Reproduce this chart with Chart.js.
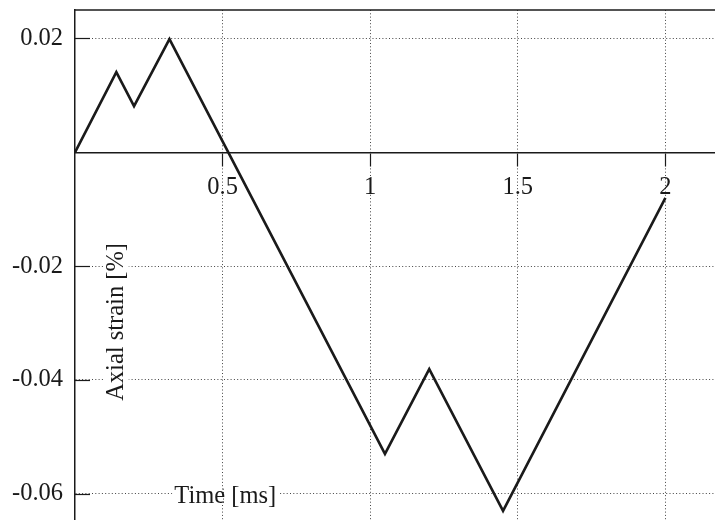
<!DOCTYPE html>
<html>
<head>
<meta charset="utf-8">
<script src="https://cdn.jsdelivr.net/npm/chart.js@4/dist/chart.umd.min.js"></script>
<style>
  html, body { margin: 0; padding: 0; background: #fff; }
  #chart { display: block; }
</style>
</head>
<body>
<canvas id="chart" width="715" height="520"></canvas>
<script>
// ── Data ──
const timeMs = [0, 0.14, 0.20, 0.32, 1.05, 1.20, 1.45, 2.0];
const strain = [0, 0.0141, 0.0081, 0.0199, -0.0530, -0.0381, -0.0630, -0.0080];

const xTicks = [0.5, 1, 1.5, 2];
const xTickLabels = ['0.5', '1', '1.5', '2'];
const yTicks = [-0.06, -0.04, -0.02, 0.02];
const yTickLabels = ['-0.06', '-0.04', '-0.02', '0.02'];

const FONT = '"Liberation Serif", "DejaVu Serif", serif';
const FSIZE = 24.5;
const INK = '#1a1a1a';
const DOTS = [1, 2.3];

// ── Extra drawing: top frame, inward y ticks, floating axis titles ──
const decor = {
  id: 'decor',
  afterDraw(chart) {
    const { ctx, chartArea: a, scales: { x, y } } = chart;
    ctx.save();

    // top frame line
    ctx.strokeStyle = INK;
    ctx.lineWidth = 1.5;
    ctx.beginPath();
    ctx.moveTo(a.left, a.top);
    ctx.lineTo(a.right, a.top);
    ctx.stroke();

    // y tick marks point into the plot
    ctx.lineWidth = 1.2;
    yTicks.forEach(v => {
      const py = Math.round(y.getPixelForValue(v)) + 0.5;
      ctx.beginPath();
      ctx.moveTo(a.left, py);
      ctx.lineTo(a.left + 15, py);
      ctx.stroke();
    });

    ctx.font = FSIZE + 'px ' + FONT;
    ctx.fillStyle = INK;

    // "Axial strain [%]" rotated, sitting inside the plot
    const ax = x.getPixelForValue(0.141), ay = y.getPixelForValue(-0.0298);
    ctx.save();
    ctx.translate(ax, ay);
    ctx.rotate(-Math.PI / 2);
    const w1 = ctx.measureText('Axial strain [%]').width;
    ctx.fillStyle = '#fff';
    ctx.fillRect(-w1 / 2 - 2, -12, w1 + 4, 24);
    ctx.fillStyle = INK;
    ctx.textAlign = 'center';
    ctx.textBaseline = 'middle';
    ctx.fillText('Axial strain [%]', 0, 0);
    ctx.restore();

    // "Time [ms]" near the bottom
    const tx = x.getPixelForValue(0.509), ty = y.getPixelForValue(-0.0605);
    const w2 = ctx.measureText('Time [ms]').width;
    ctx.fillStyle = '#fff';
    ctx.fillRect(tx - w2 / 2 - 2, ty - 6, w2 + 4, 12);
    // the 0.5 grid line runs through the title
    const gx = Math.round(x.getPixelForValue(0.5)) + 0.5;
    ctx.strokeStyle = '#444';
    ctx.lineWidth = 1;
    ctx.setLineDash(DOTS);
    ctx.beginPath();
    ctx.moveTo(gx, ty - 8);
    ctx.lineTo(gx, ty + 8);
    ctx.stroke();
    ctx.setLineDash([]);
    ctx.fillStyle = INK;
    ctx.textAlign = 'center';
    ctx.textBaseline = 'middle';
    ctx.fillText('Time [ms]', tx, ty);

    ctx.restore();
  }
};

new Chart(document.getElementById('chart'), {
  type: 'line',
  data: {
    datasets: [{
      data: timeMs.map((t, i) => ({ x: t, y: strain[i] })),
      borderColor: INK,
      borderWidth: 2.6,
      pointRadius: 0,
      tension: 0,
      fill: false
    }]
  },
  options: {
    responsive: false,
    animation: false,
    layout: { padding: { top: 10, left: 0, right: 0, bottom: 0 } },
    plugins: { legend: { display: false }, tooltip: { enabled: false } },
    scales: {
      x: {
        type: 'linear',
        min: 0, max: 2.168,
        position: { y: 0 },
        afterBuildTicks: s => { s.ticks = xTicks.map(v => ({ value: v })); },
        afterFit: s => { s.paddingLeft = 0; s.paddingRight = 0; },
        grid: {
          color: '#444', lineWidth: 1,
          tickLength: 13, tickColor: INK, tickWidth: 1.2, tickBorderDash: []
        },
        border: { display: true, color: INK, width: 1.5, dash: DOTS },
        ticks: {
          padding: 8, color: INK, maxRotation: 0, autoSkip: false,
          font: { family: FONT, size: FSIZE },
          callback: v => xTickLabels[xTicks.indexOf(v)]
        }
      },
      y: {
        type: 'linear',
        min: -0.0646, max: 0.025,
        position: 'left',
        afterBuildTicks: s => { s.ticks = yTicks.map(v => ({ value: v })); },
        afterFit: s => { s.width = 75; s.paddingTop = 0; s.paddingBottom = 0; },
        grid: { color: '#444', lineWidth: 1, drawTicks: false },
        border: { display: true, color: INK, width: 1.5, dash: DOTS },
        ticks: {
          padding: 12, color: INK, autoSkip: false,
          font: { family: FONT, size: FSIZE },
          callback: v => yTickLabels[yTicks.indexOf(v)]
        }
      }
    }
  },
  plugins: [decor]
});
</script>
</body>
</html>
